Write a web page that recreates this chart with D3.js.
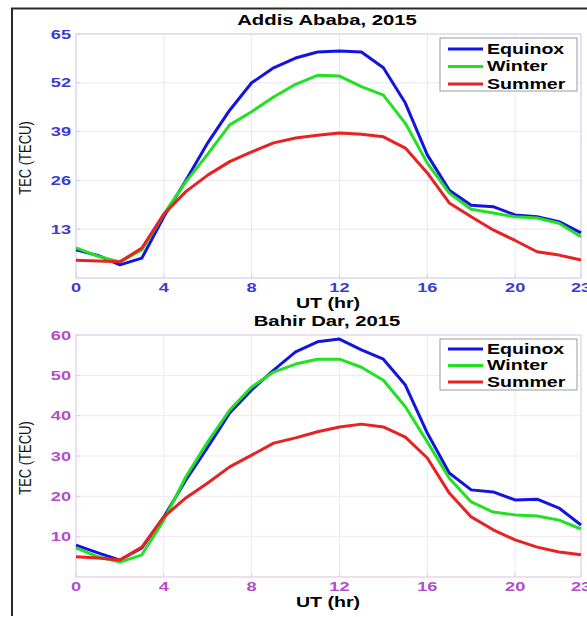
<!DOCTYPE html>
<html>
<head>
<meta charset="utf-8">
<script src="https://cdn.jsdelivr.net/npm/d3@7/dist/d3.min.js"></script>
<style>
  html, body { margin: 0; padding: 0; background: #fff; }
  svg { display: block; }
  text { font-family: "Liberation Sans", Arial, sans-serif; }
</style>
</head>
<body>
<svg id="chart" width="587" height="617"></svg>
<script>
// Hourly mean TEC (TECU) by season, UT 0..23
const hours = d3.range(0, 24);
const seasons = ["Equinox", "Winter", "Summer"];
const seasonColors = ["#1414e0", "#22e022", "#e62222"];

const addisEquinox = [7.5, 6.0, 3.5, 5.3, 16.3, 26.0, 36.0, 44.7, 52.0, 56.0, 58.6, 60.2,
                      60.5, 60.2, 56.0, 46.6, 32.8, 23.4, 19.4, 19.0, 16.8, 16.3, 15.0, 12.0];
const addisWinter  = [8.0, 5.8, 4.3, 7.5, 17.0, 25.6, 33.0, 40.8, 44.3, 48.2, 51.6, 54.0,
                      53.8, 51.0, 48.7, 41.2, 30.6, 22.6, 18.3, 17.3, 16.3, 16.0, 14.6, 11.0];
const addisSummer  = [4.7, 4.5, 4.3, 8.0, 17.0, 23.0, 27.4, 31.0, 33.6, 36.0, 37.3, 38.0,
                      38.6, 38.3, 37.6, 34.6, 28.0, 20.0, 16.3, 12.8, 10.0, 7.0, 6.1, 4.8];

const bahirEquinox = [7.9, 6.0, 4.2, 7.2, 14.9, 24.0, 32.2, 40.7, 46.4, 51.3, 55.8, 58.3,
                      59.0, 56.3, 54.0, 47.6, 35.7, 25.8, 21.6, 21.1, 19.1, 19.3, 17.1, 12.9];
const bahirWinter  = [7.2, 5.0, 3.7, 5.5, 14.1, 24.8, 33.5, 41.4, 47.1, 50.8, 52.8, 54.0,
                      54.0, 52.0, 48.8, 42.2, 33.5, 24.5, 18.6, 16.1, 15.4, 15.1, 14.1, 11.9];
const bahirSummer  = [5.0, 4.7, 4.2, 7.4, 14.9, 19.6, 23.3, 27.3, 30.2, 33.2, 34.5, 36.0,
                      37.2, 37.9, 37.2, 34.7, 29.5, 20.8, 14.9, 11.7, 9.2, 7.4, 6.2, 5.5];

const xTicks = [0, 4, 8, 12, 16, 20, 23];
const addisYTicks = [13, 26, 39, 52, 65];
const bahirYTicks = [10, 20, 30, 40, 50, 60];

const panels = [
  { title: "Addis Ababa, 2015", series: [addisEquinox, addisWinter, addisSummer],
    yMax: 65, yTicks: addisYTicks, top: 34, bottom: 278,
    tickColor: "#3c3cd2", gridColor: "#e6e6f7", boxColor: "#cfcff0",
    legend: { x: 440, y: 38, w: 137, h: 53, rows: [49, 66.5, 84] } },
  { title: "Bahir Dar, 2015", series: [bahirEquinox, bahirWinter, bahirSummer],
    yMax: 60, yTicks: bahirYTicks, top: 335, bottom: 577,
    tickColor: "#b34cc8", gridColor: "#f1e6f1", boxColor: "#e3cbe8",
    legend: { x: 440, y: 339, w: 137, h: 51, rows: [349, 365.5, 382] } }
];

const svg = d3.select("#chart");
const SX = 1.4; // horizontal text stretch

function label(g, str, x, y, opts) {
  const t = g.append("text")
    .attr("transform", `translate(${x},${y}) scale(${opts.sx || SX},1)`)
    .attr("text-anchor", opts.anchor || "middle")
    .attr("font-size", opts.size || 13)
    .attr("font-weight", opts.weight || "bold")
    .attr("fill", opts.color || "#000")
    .text(str);
  if (opts.middle) t.attr("dy", "0.35em");
  return t;
}

const left = 76, right = 581;
const x = d3.scaleLinear().domain([0, 23]).range([left, right]);

// outer figure frame
svg.append("path")
  .attr("d", "M12,616 L12,8.5 L590,8.5")
  .attr("fill", "none").attr("stroke", "#2a2a2a").attr("stroke-width", 2);

panels.forEach(p => {
  const g = svg.append("g");
  const y = d3.scaleLinear().domain([0, p.yMax]).range([p.bottom, p.top]);

  // grid
  g.selectAll(".gx").data(xTicks.slice(1, -1)).join("line")
    .attr("x1", d => x(d)).attr("x2", d => x(d))
    .attr("y1", p.top).attr("y2", p.bottom)
    .attr("stroke", p.gridColor).attr("stroke-width", 1);
  g.selectAll(".gy").data(p.yTicks.slice(0, -1)).join("line")
    .attr("x1", left).attr("x2", right)
    .attr("y1", d => y(d)).attr("y2", d => y(d))
    .attr("stroke", p.gridColor).attr("stroke-width", 1);

  // axes box
  g.append("rect")
    .attr("x", left).attr("y", p.top)
    .attr("width", right - left).attr("height", p.bottom - p.top)
    .attr("fill", "none").attr("stroke", p.boxColor).attr("stroke-width", 1.2);

  // tick marks
  g.selectAll(".tx").data(xTicks).join("line")
    .attr("x1", d => x(d)).attr("x2", d => x(d))
    .attr("y1", p.bottom).attr("y2", p.bottom - 4)
    .attr("stroke", p.boxColor);
  g.selectAll(".ty").data(p.yTicks).join("line")
    .attr("x1", left).attr("x2", left + 4)
    .attr("y1", d => y(d)).attr("y2", d => y(d))
    .attr("stroke", p.boxColor);

  // tick labels
  xTicks.forEach(t => label(g, String(t), x(t), p.bottom + 14,
    { color: p.tickColor, size: 13 }));
  p.yTicks.forEach(t => label(g, String(t), 71, y(t),
    { color: p.tickColor, size: 13, anchor: "end", middle: true }));

  // series lines
  const line = d3.line().x((d, i) => x(hours[i])).y(d => y(d));
  p.series.forEach((s, i) => {
    g.append("path").datum(s)
      .attr("d", line)
      .attr("fill", "none")
      .attr("stroke", seasonColors[i])
      .attr("stroke-width", 3)
      .attr("stroke-linejoin", "round");
  });

  // title and axis labels
  label(g, p.title, 327, p.top - 9, { size: 14.5 });
  label(g, "UT (hr)", 328, p.bottom + 30, { size: 14 });
  g.append("text")
    .attr("transform", `translate(31,${(p.top + p.bottom) / 2 + 2}) rotate(-90) scale(1,1.2)`)
    .attr("text-anchor", "middle")
    .attr("font-size", 13)
    .attr("fill", "#111")
    .text("TEC (TECU)");

  // legend
  const L = p.legend;
  g.append("rect")
    .attr("x", L.x).attr("y", L.y).attr("width", L.w).attr("height", L.h)
    .attr("fill", "#fff").attr("stroke", "#9a9a9a").attr("stroke-width", 1);
  seasons.forEach((name, i) => {
    g.append("line")
      .attr("x1", L.x + 8).attr("x2", L.x + 43)
      .attr("y1", L.rows[i]).attr("y2", L.rows[i])
      .attr("stroke", seasonColors[i]).attr("stroke-width", 3);
    label(g, name, L.x + 47, L.rows[i], { size: 14, anchor: "start", middle: true });
  });
});
</script>
</body>
</html>
